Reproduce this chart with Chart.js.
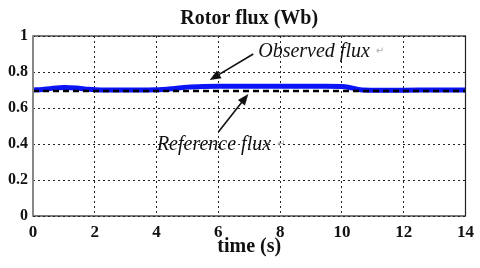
<!DOCTYPE html>
<html>
<head>
<meta charset="utf-8">
<script src="https://cdn.jsdelivr.net/npm/chart.js@4"></script>
<style>
  html, body { margin: 0; padding: 0; background: #fff; }
  #wrap { width: 480px; height: 268px; position: relative; }
</style>
</head>
<body>
<div id="wrap"><canvas id="flux-chart"></canvas></div>
<script>
const xTicks = [0, 2, 4, 6, 8, 10, 12, 14];
const yTicks = [0, 0.2, 0.4, 0.6, 0.8, 1];
const yTickLabels = ['0', '0.2', '0.4', '0.6', '0.8', '1'];

// observed rotor flux
const obsTime = [0, 0.3, 0.6, 1.0, 1.4, 1.8, 2.2, 3.0, 4.0, 4.5, 5.0, 5.5, 6.0, 7.0, 8.0, 9.0, 10.0, 10.3, 10.6, 11.0, 12.0, 13.0, 14.0];
const obsFlux = [0.700, 0.703, 0.709, 0.714, 0.711, 0.704, 0.700, 0.700, 0.701, 0.707, 0.716, 0.720, 0.721, 0.721, 0.721, 0.721, 0.720, 0.712, 0.701, 0.699, 0.699, 0.700, 0.700];

// reference flux
const refTime = [0, 14];
const refFlux = [0.695, 0.695];

const labels = [
  { text: 'Observed flux', x: 7.29, y: 0.883, arrowFrom: [7.13, 0.90], arrowTo: [5.72, 0.755] },
  { text: 'Reference flux', x: 4.01, y: 0.367, arrowFrom: [6.0, 0.467], arrowTo: [6.97, 0.678] },
];

const toPts = (xs, ys) => xs.map((x, i) => ({ x, y: ys[i] }));

const serif = '"Liberation Serif", "DejaVu Serif", serif';

const decor = {
  id: 'decor',
  afterDraw(chart) {
    const { ctx, chartArea: a, scales: { x, y } } = chart;
    ctx.save();
    // frame
    ctx.setLineDash([]);
    ctx.strokeStyle = '#222';
    ctx.lineWidth = 1.2;
    ctx.strokeRect(a.left, a.top, a.right - a.left, a.bottom - a.top);
    ctx.strokeStyle = '#888';
    ctx.lineWidth = 2;
    ctx.beginPath();
    ctx.moveTo(a.left, a.top);
    ctx.lineTo(a.left, a.bottom);
    ctx.stroke();

    // title
    ctx.fillStyle = '#111';
    ctx.font = 'bold 20px ' + serif;
    ctx.textAlign = 'center';
    ctx.textBaseline = 'alphabetic';
    ctx.fillText('Rotor flux (Wb)', (a.left + a.right) / 2, 24);

    // annotations
    for (const l of labels) {
      const tx = x.getPixelForValue(l.x), ty = y.getPixelForValue(l.y);
      ctx.font = 'italic 20px ' + serif;
      ctx.textAlign = 'left';
      ctx.fillStyle = '#111';
      ctx.fillText(l.text, tx, ty);
      const w = ctx.measureText(l.text).width;
      ctx.font = '10px "DejaVu Sans"';
      ctx.fillStyle = '#aaa';
      ctx.fillText('\u21B5', tx + w + 6, ty - 3);

      const x0 = x.getPixelForValue(l.arrowFrom[0]), y0 = y.getPixelForValue(l.arrowFrom[1]);
      const x1 = x.getPixelForValue(l.arrowTo[0]), y1 = y.getPixelForValue(l.arrowTo[1]);
      const ang = Math.atan2(y1 - y0, x1 - x0);
      const hl = 12, hw = 0.38;
      ctx.strokeStyle = '#111';
      ctx.fillStyle = '#111';
      ctx.lineWidth = 1.6;
      ctx.beginPath();
      ctx.moveTo(x0, y0);
      ctx.lineTo(x1 - Math.cos(ang) * hl * 0.8, y1 - Math.sin(ang) * hl * 0.8);
      ctx.stroke();
      ctx.beginPath();
      ctx.moveTo(x1, y1);
      ctx.lineTo(x1 - hl * Math.cos(ang - hw), y1 - hl * Math.sin(ang - hw));
      ctx.lineTo(x1 - hl * Math.cos(ang + hw), y1 - hl * Math.sin(ang + hw));
      ctx.closePath();
      ctx.fill();
    }
    ctx.restore();
  }
};

new Chart(document.getElementById('flux-chart'), {
  type: 'line',
  data: {
    datasets: [
      {
        label: 'Observed flux',
        data: toPts(obsTime, obsFlux),
        borderColor: '#0a14f5',
        borderWidth: 5,
        pointRadius: 0,
        tension: 0.3,
        order: 2,
      },
      {
        label: 'Reference flux',
        data: toPts(refTime, refFlux),
        borderColor: '#000',
        borderWidth: 2.5,
        borderDash: [6, 4],
        pointRadius: 0,
        order: 1,
      },
    ],
  },
  options: {
    responsive: true,
    maintainAspectRatio: false,
    animation: false,
    layout: { padding: { top: 36, right: 11, left: 0, bottom: 0 } },
    plugins: { legend: { display: false }, tooltip: { enabled: false } },
    scales: {
      x: {
        type: 'linear',
        min: 0, max: 14,
        afterBuildTicks: (s) => { s.ticks = xTicks.map(v => ({ value: v })); },
        afterFit: (s) => { s.height = 52; },
        grid: { color: '#222', lineWidth: 1, drawTicks: false },
        border: { display: false, dash: [2, 3] },
        ticks: { color: '#111', padding: 6, maxRotation: 0, font: { family: serif, weight: 'bold', size: 17 } },
        title: {
          display: true, text: 'time (s)', color: '#111',
          font: { family: serif, weight: 'bold', size: 20 },
          padding: { top: 0, bottom: 9 },
        },
      },
      y: {
        min: 0, max: 1,
        afterBuildTicks: (s) => { s.ticks = yTicks.map(v => ({ value: v })); },
        afterFit: (s) => { s.width = 33; },
        grid: { color: '#222', lineWidth: 1, drawTicks: false },
        border: { display: false, dash: [2, 3] },
        ticks: {
          color: '#111', padding: 5,
          font: { family: serif, weight: 'bold', size: 16 },
          callback: (v) => yTickLabels[yTicks.indexOf(v)] ?? '',
        },
      },
    },
  },
  plugins: [decor],
});
</script>
</body>
</html>
